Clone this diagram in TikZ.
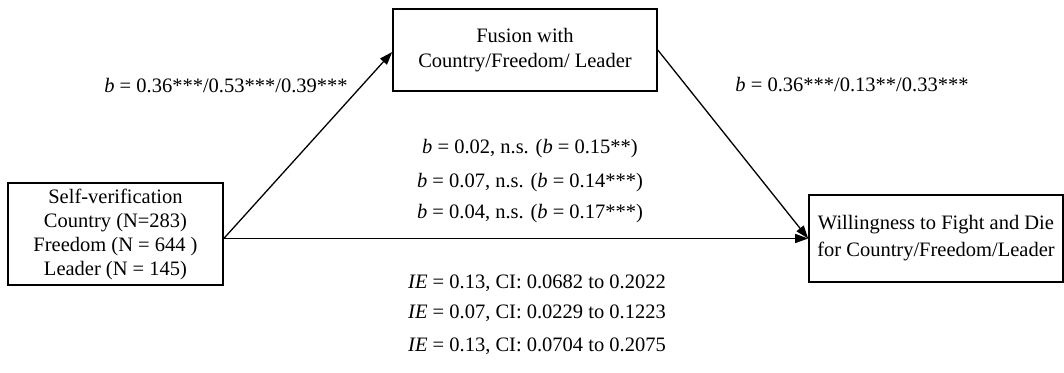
\documentclass[tikz,border=0pt]{standalone}
\usepackage{fontspec}
\setmainfont{Liberation Serif}
\usetikzlibrary{arrows.meta,calc}
\begin{document}
\begin{tikzpicture}[x=1pt,y=-1pt,
  box/.style={draw,line width=1.6pt,align=center,inner sep=0pt,
    font=\fontsize{20.5}{24}\selectfont},
  lbl/.style={inner sep=0pt,font=\fontsize{20.5}{24}\selectfont},
  conn/.style={line width=1.3pt,-{Triangle[length=13pt,width=9pt]}}]
\useasboundingbox (0,0) rectangle (1064,372);
\node[box,minimum width=215pt,minimum height=102pt] (sv) at (115.5,234)
  {Self-verification\\Country (N=283)\\Freedom (N = 644 )\\Leader (N = 145)};
\node[box,minimum width=264pt,minimum height=82pt] (fu) at (525,50)
  {Fusion with\\[1pt]Country/Freedom/ Leader};
\node[box,minimum width=254pt,minimum height=87pt] (wi) at (936,238.5)
  {Willingness to Fight and Die\\[3pt]for Country/Freedom/Leader};
\coordinate (o) at ([yshift=-4.5pt]sv.east);
\draw[conn] (o) -- ([yshift=-2pt]fu.west);
\draw[conn] (o) -- (wi.west);
\draw[conn] (fu.east) -- (wi.west);
\node[lbl] (a1) at (226,86) {\textit{b} = 0.36***/0.53***/0.39***};
\node[lbl] (a2) at (852,85) {\textit{b} = 0.36***/0.13**/0.33***};
\node[lbl] (c1) at (530,149) {\textit{b} = 0.02, n.s. (\textit{b} = 0.15**)};
\node[lbl] (c2) at (530,183) {\textit{b} = 0.07, n.s. (\textit{b} = 0.14***)};
\node[lbl] (c3) at (530,214) {\textit{b} = 0.04, n.s. (\textit{b} = 0.17***)};
\node[lbl] (i1) at (537,283) {\textit{IE} = 0.13, CI: 0.0682 to 0.2022};
\node[lbl] (i2) at (537,313) {\textit{IE} = 0.07, CI: 0.0229 to 0.1223};
\node[lbl] (i3) at (537,346) {\textit{IE} = 0.13, CI: 0.0704 to 0.2075};
\end{tikzpicture}
\end{document}
